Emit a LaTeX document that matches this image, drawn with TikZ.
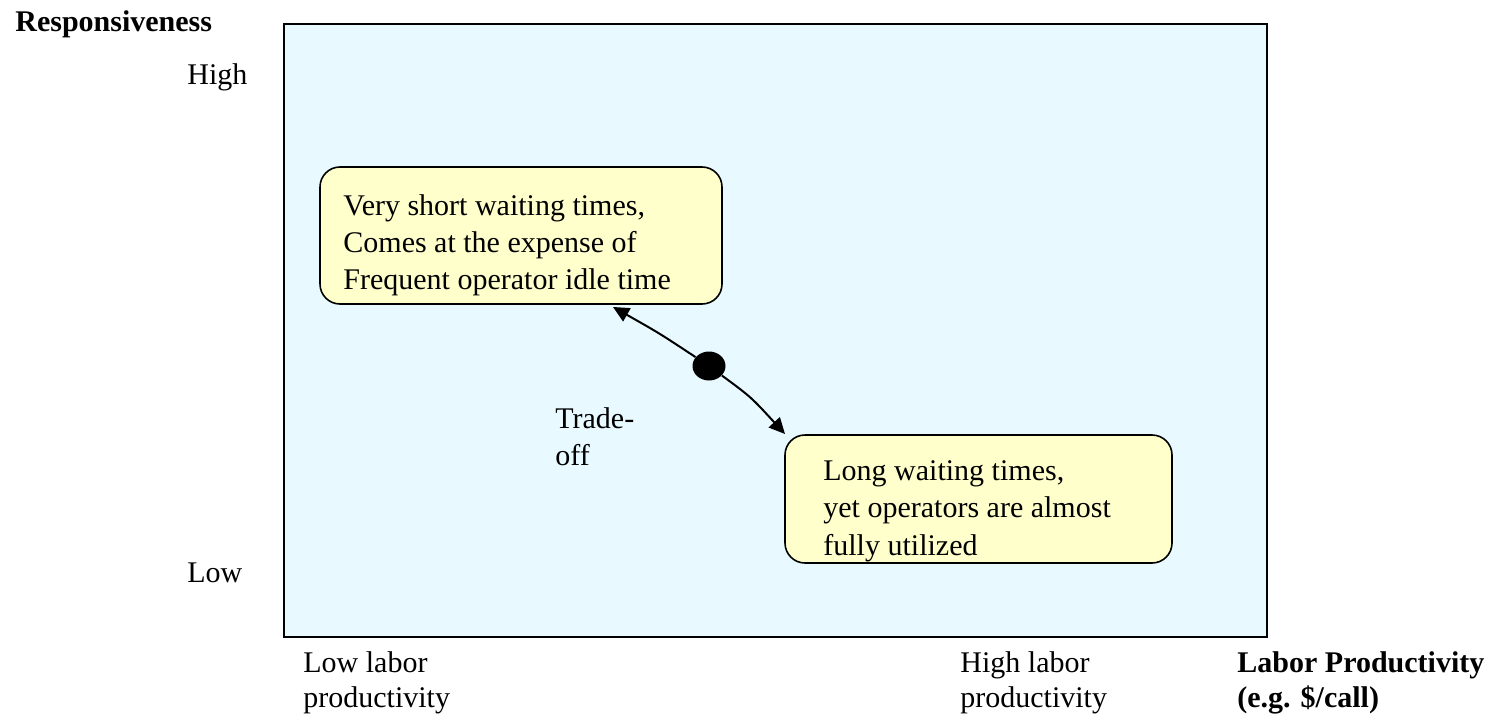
\documentclass[tikz,border=0pt]{standalone}
\usepackage{fontspec}
\setmainfont{Liberation Serif}
\usetikzlibrary{arrows.meta,shapes.geometric}
\definecolor{bgcyan}{RGB}{232,250,255}
\definecolor{boxyellow}{RGB}{255,255,204}
\begin{document}
\begin{tikzpicture}[x=0.5pt,y=-0.5pt,
  lbl/.style={anchor=base west,inner sep=0pt,font=\fontsize{15}{18.5}\selectfont},
  blbl/.style={anchor=base west,inner sep=0pt,font=\fontsize{15}{18.5}\selectfont\bfseries},
  frame/.style={draw=black,line width=1.3pt,fill=bgcyan,minimum width=491.5pt,minimum height=306.5pt,inner sep=0pt},
  ybox/.style={draw=black,line width=0.8pt,fill=boxyellow,rounded corners=10pt,inner sep=0pt},
  arr/.style={line width=1pt,-{Triangle[length=8pt,width=7.5pt]}},
  dotn/.style={ellipse,fill=black,minimum width=16.5pt,minimum height=14.5pt,inner sep=0pt}]
\useasboundingbox (0,0) rectangle (1492,717);
% frame
\node[frame] (frame) at (775.5,330.5) {};
% yellow boxes
\node[ybox,minimum width=201pt,minimum height=68.5pt] (boxA) at (521,235.5) {};
\node[ybox,minimum width=193.5pt,minimum height=64pt] (boxB) at (978.5,499) {};
% box texts
\node[lbl] (a1) at (343,215) {Very short waiting times,};
\node[lbl] (a2) at (343,252) {Comes at the expense of};
\node[lbl] (a3) at (343,289) {Frequent operator idle time};
\node[lbl] (b1) at (823,480) {Long waiting times,};
\node[lbl] (b2) at (823,517) {yet operators are almost};
\node[lbl] (b3) at (823,555) {fully utilized};
% trade-off
\node[lbl] (t1) at (555,428) {Trade-};
\node[lbl] (t2) at (555,465) {off};
% axis labels
\node[blbl] (resp) at (15,32) {Responsiveness};
\node[lbl] (high) at (187,85) {High};
\node[lbl] (low) at (187,582) {Low};
\node[lbl] (ll1) at (303,672) {Low labor};
\node[lbl] (ll2) at (303,707) {productivity};
\node[lbl] (hl1) at (960,672) {High labor};
\node[lbl] (hl2) at (960,707) {productivity};
\node[blbl] (lp1) at (1237,672) {Labor Productivity};
\node[blbl] (lp2) at (1237,707) {(e.g. \$/call)};
% dot and arrows
\node[dotn] (dot) at (709,366) {};
\coordinate (tipA) at (613,307);
\coordinate (tipB) at (785,434);
\draw[arr] (dot) .. controls (659,333) .. (tipA);
\draw[arr] (dot) .. controls (751,397) .. (tipB);
\end{tikzpicture}
\end{document}
